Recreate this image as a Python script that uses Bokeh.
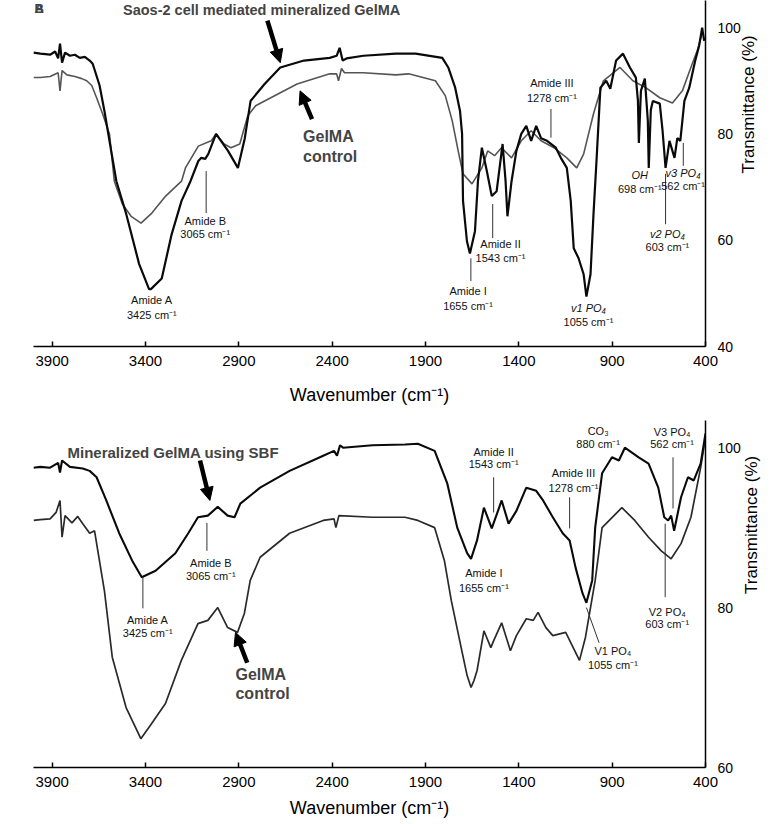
import math
from bokeh.plotting import figure
from bokeh.layouts import column
from bokeh.models import Range1d, FixedTicker, Label, Arrow, NormalHead
from bokeh.embed import file_html
from bokeh.resources import INLINE

FONT = "Liberation Sans"
SUP = " cm\u207b\u00b9"

# ---------------- data: panel A (Saos-2 cell mediated mineralization) ----------------
top_cell_wn = [4000,3963,3911,3884,3868,3858,3847,3831,3805,3778,3752,3725,3699,3683,3662,3646,3620,3593,3556,3503,
               3434,3381,3371,3313,3260,3207,3159,3117,3101,3080,3064,3022,2958,2905,2868,2837,2762,2678,2551,2413,
               2376,2360,2344,2323,2233,2059,1953,1810,1778,1741,1715,1704,1699,1678,1662,1635,1619,1598,1572,1545,
               1519,1487,1471,1461,1439,1413,1387,1360,1334,1307,1281,1249,1202,1175,1143,1122,1106,1080,1053,1038,
               1016,1000,984,963,932,910,879,842,805,773,762,757,746,725,709,704,693,682,645,630,
               614,593,566,551,535,513,487,455,434,418,407]
top_cell_T = [95.3,95.1,94.9,95.5,94.2,97.0,93.4,95.3,94.7,94.9,94.3,94.5,93.8,93.2,90.9,89.1,84.3,78.7,71.1,64.9,
              55.5,50.8,50.8,52.8,61.1,67.4,71.1,74.9,75.5,75.3,76.2,80.0,76.8,73.6,79.2,86.2,89.4,92.5,93.8,94.3,
              94.7,96.2,93.8,94.2,94.7,95.1,95.1,94.3,92.5,88.7,84.3,80.0,67.4,59.8,57.5,61.7,71.1,77.4,73.1,68.3,
              69.2,78.1,71.1,64.5,71.1,76.8,80.0,81.5,78.7,81.5,79.2,78.7,77.4,75.5,73.6,67.4,58.5,56.6,53.6,49.4,
              53.6,64.9,74.9,88.7,90.0,88.5,93.8,95.1,92.5,90.6,86.2,78.3,88.1,90.4,82.5,73.6,84.5,86.2,85.7,80.6,
              73.6,78.7,75.5,79.2,78.7,86.2,88.7,93.8,96.6,100.0,97.5]

top_ctrl_wn = [4000,3963,3911,3868,3858,3847,3821,3778,3741,3715,3688,3662,3630,3593,3567,3524,3477,3424,3366,3292,
               3207,3186,3117,3048,3022,2979,2942,2895,2852,2810,2762,2588,2413,2376,2366,2350,2334,2233,2059,1990,
               1847,1794,1757,1725,1699,1651,1598,1567,1530,1493,1439,1387,1334,1281,1212,1143,1090,1053,1000,947,
               858,789,720,645,577,524,471,444,418]
top_ctrl_T = [90.6,90.6,90.8,91.5,88.1,91.9,91.1,90.8,90.4,90.0,89.1,86.8,83.8,80.0,71.1,66.8,64.5,63.2,65.1,68.3,
              71.1,73.6,77.7,78.7,80.0,78.1,77.4,78.1,83.4,85.3,86.2,89.4,91.3,91.3,90.0,92.3,91.5,91.5,91.1,91.3,
              90.0,87.2,82.5,76.8,72.5,70.6,73.6,76.8,75.9,77.4,75.5,78.7,80.6,78.7,77.4,75.5,73.6,76.2,83.8,90.0,
              92.5,90.0,88.7,86.8,85.8,88.1,93.2,95.7,98.9]

top_lab1 = ["Amide A", "Amide B", "Amide I", "Amide II", "Amide III", "v1 PO\u2084", "OH", "v2 PO\u2084", "v3 PO\u2084"]
top_lab2 = ["3425" + SUP, "3065" + SUP, "1655" + SUP, "1543" + SUP, "1278" + SUP, "1055" + SUP, "698" + SUP, "603" + SUP, "562" + SUP]
top_lab_x = [3366, 3080, 1672, 1498, 1223, 1027, 752, 604, 520]
top_lab_y1 = [48.7, 63.6, 50.4, 59.3, 89.6, 47.2, 72.3, 61.1, 72.6]
top_lab_y2 = [45.9, 61.1, 47.6, 56.6, 86.8, 44.7, 69.6, 58.7, 70.2]
top_lab_italic = [False, False, False, False, False, True, True, True, True]

top_mark_x0 = [3075, 1657, 1540, 1228, 614, 519]
top_mark_x1 = [3075, 1657, 1540, 1228, 614, 519]
top_mark_y0 = [73.0, 56.6, 66.8, 84.7, 72.5, 78.3]
top_mark_y1 = [65.1, 52.3, 60.4, 79.3, 63.0, 74.0]

# ---------------- data: panel B (SBF mineralization) ----------------
bot_sbf_wn = [4000,3963,3911,3868,3858,3847,3805,3736,3699,3662,3610,3541,3472,3420,3346,3240,3171,3119,3066,3013,
              2960,2923,2892,2786,2628,2448,2390,2374,2358,2342,2184,2010,1941,1851,1783,1730,1677,1656,1624,1587,
              1545,1492,1455,1413,1360,1307,1270,1218,1165,1128,1096,1059,1038,1007,991,954,901,864,832,758,
              705,653,621,600,584,568,531,494,463,426,400]
bot_sbf_T = [97.5,97.6,97.5,98.1,96.9,98.4,97.6,97.4,97.1,96.3,93.4,89.3,85.9,83.8,84.6,86.8,89.3,91.3,91.5,92.6,
             91.5,91.3,93.0,95.0,97.1,99.0,99.6,99.0,100.3,100.0,100.3,100.4,100.5,99.6,95.5,90.0,86.8,86.1,88.4,92.5,
             89.9,93.4,90.5,92.1,95.0,94.6,93.4,91.3,89.3,88.4,85.0,81.8,80.6,83.4,90.0,96.8,98.8,98.4,100.0,98.8,
             98.0,95.0,91.3,90.9,91.5,89.6,93.8,96.3,95.9,98.0,101.8]

bot_ctrl_wn = [4000,3963,3911,3879,3858,3847,3831,3794,3763,3736,3699,3673,3647,3620,3578,3504,3425,3367,3293,3208,
               3119,3066,3013,2960,2907,2870,2839,2786,2628,2448,2390,2380,2364,2184,2010,1941,1851,1799,1762,1709,
               1677,1656,1640,1624,1587,1550,1534,1492,1445,1413,1360,1323,1297,1255,1218,1149,1075,1043,991,954,
               848,779,705,637,584,531,478,426,400]
bot_ctrl_T = [90.9,91.0,91.1,91.9,93.4,88.8,91.5,90.6,91.4,90.5,89.3,89.6,85.9,82.1,73.8,67.5,63.6,65.5,68.0,73.4,
              78.0,78.4,80.0,77.5,76.9,79.3,83.4,86.3,89.3,90.9,91.1,90.0,91.5,91.3,91.3,90.9,90.0,85.9,80.9,75.0,
              71.5,70.0,70.9,72.1,77.1,75.0,75.9,78.1,74.6,76.5,78.6,78.4,79.4,77.5,76.5,76.9,73.4,76.3,83.4,90.0,
              92.5,90.9,88.8,87.1,86.1,88.0,91.3,97.5,101.3]

bot_lab1 = ["Amide A", "Amide B", "Amide II", "Amide I", "Amide III", "CO\u2083", "V3 PO\u2084", "V2 PO\u2084", "V1 PO\u2084"]
bot_lab2 = ["3425" + SUP, "3065" + SUP, "1543" + SUP, "1655" + SUP, "1278" + SUP, "880" + SUP, "562" + SUP, "603" + SUP, "1055" + SUP]
bot_lab_x = [3388, 3050, 1535, 1587, 1107, 975, 579, 605, 896]
bot_lab_y1 = [78.5, 85.6, 99.5, 84.3, 96.8, 102.1, 102.0, 79.5, 74.6]
bot_lab_y2 = [76.8, 83.9, 97.9, 82.5, 94.9, 100.4, 100.4, 77.9, 72.8]

bot_mark_x0 = [3414, 3071, 1535, 1128, 574, 616, 1038]
bot_mark_x1 = [3414, 3071, 1535, 1128, 574, 616, 970]
bot_mark_y0 = [83.8, 90.6, 96.3, 93.8, 98.8, 90.5, 80.0]
bot_mark_y1 = [79.9, 87.1, 91.9, 89.9, 92.4, 81.3, 75.6]

x_ticks = [3900, 3400, 2900, 2400, 1900, 1400, 900, 400]
top_y_ticks = [40, 60, 80, 100]
bot_y_ticks = [60, 80, 100]


def make_panel(height, y_lo, y_hi, yticks, bl, br, bt, bb, x_lab_so, y_lab_so):
    p = figure(width=777, height=height, x_range=Range1d(4000, 400), y_range=Range1d(y_lo, y_hi),
               output_backend="svg", toolbar_location=None, y_axis_location="right",
               min_border_left=bl, min_border_right=br, min_border_top=bt, min_border_bottom=bb)
    p.grid.visible = False
    p.outline_line_color = None
    p.background_fill_color = "white"
    p.border_fill_color = "white"
    xa = p.xaxis[0]
    xa.ticker = FixedTicker(ticks=x_ticks)
    xa.major_tick_in = 5
    xa.major_tick_out = 0
    xa.minor_tick_in = 0
    xa.minor_tick_out = 0
    xa.axis_line_width = 1.5
    xa.axis_line_color = "black"
    xa.major_tick_line_width = 1.5
    xa.major_tick_line_color = "black"
    xa.major_label_text_font = FONT
    xa.major_label_text_font_size = "15px"
    xa.major_label_text_color = "black"
    xa.major_label_standoff = 9
    xa.axis_label = "Wavenumber (cm\u207b\u00b9)"
    xa.axis_label_text_font = FONT
    xa.axis_label_text_font_size = "18px"
    xa.axis_label_text_font_style = "normal"
    xa.axis_label_text_color = "black"
    xa.axis_label_standoff = x_lab_so
    ya = p.yaxis[0]
    ya.ticker = FixedTicker(ticks=yticks)
    ya.major_tick_in = 0
    ya.major_tick_out = 0
    ya.minor_tick_in = 0
    ya.minor_tick_out = 0
    ya.axis_line_width = 1.5
    ya.axis_line_color = "black"
    ya.major_label_text_font = FONT
    ya.major_label_text_font_size = "14px"
    ya.major_label_text_color = "black"
    ya.major_label_standoff = 12
    ya.axis_label = "Transmittance (%)"
    ya.axis_label_text_font = FONT
    ya.axis_label_text_font_size = "17px"
    ya.axis_label_text_font_style = "normal"
    ya.axis_label_text_color = "black"
    ya.axis_label_standoff = y_lab_so
    try:
        ya.axis_label_orientation = math.pi / 2
    except Exception:
        pass
    return p


def add_labels(p, xs, y1s, y2s, t1s, t2s, italics=None):
    for i in range(len(xs)):
        it = italics[i] if italics else False
        p.add_layout(Label(x=xs[i], y=y1s[i], text=t1s[i], text_align="center", text_baseline="middle",
                           text_font=FONT, text_font_size="11px", text_color="#111111",
                           text_font_style="italic" if it else "normal"))
        p.add_layout(Label(x=xs[i], y=y2s[i], text=t2s[i], text_align="center", text_baseline="middle",
                           text_font=FONT, text_font_size="11px", text_color="#111111"))


def add_arrow(p, xs, ys, xe, ye):
    p.add_layout(Arrow(end=NormalHead(size=13, fill_color="black", line_color="black", line_width=1),
                       x_start=xs, y_start=ys, x_end=xe, y_end=ye, line_width=4.5, line_color="black"))


# ---------------- top panel ----------------
p1 = make_panel(410, 40, 105.1, top_y_ticks, 33, 65, 0, 64, 16, 5)
p1.line(top_ctrl_wn, top_ctrl_T, line_color="#555555", line_width=1.6)
p1.line(top_cell_wn, top_cell_T, line_color="#0a0a0a", line_width=2.2)
p1.segment(top_mark_x0, top_mark_y0, top_mark_x1, top_mark_y1, line_color="#333333", line_width=1)
add_labels(p1, top_lab_x, top_lab_y1, top_lab_y2, top_lab1, top_lab2, top_lab_italic)
p1.add_layout(Label(x=2778, y=103.4, text="Saos-2 cell mediated mineralized GelMA", text_align="center",
                    text_baseline="middle", text_font=FONT, text_font_size="14.5px", text_font_style="bold"))
add_arrow(p1, 2747, 101.3, 2678, 93.4)
add_arrow(p1, 2508, 82.8, 2572, 88.1)
p1.add_layout(Label(x=2556, y=79.6, text="GelMA", text_align="left", text_baseline="middle",
                    text_font=FONT, text_font_size="16px", text_font_style="bold"))
p1.add_layout(Label(x=2556, y=75.8, text="control", text_align="left", text_baseline="middle",
                    text_font=FONT, text_font_size="16px", text_font_style="bold"))
for t in ["A", "B"]:
    p1.add_layout(Label(x=3995, y=105.0, text=t, text_align="left", text_baseline="top",
                        text_font=FONT, text_font_size="13px", text_font_style="bold"))

# ---------------- bottom panel ----------------
p2 = make_panel(412, 60, 103.4, bot_y_ticks, 23, 72, 10, 55, 8, 8)
p2.line(bot_ctrl_wn, bot_ctrl_T, line_color="#2a2a2a", line_width=1.7)
p2.line(bot_sbf_wn, bot_sbf_T, line_color="#0a0a0a", line_width=2.1)
p2.segment(bot_mark_x0, bot_mark_y0, bot_mark_x1, bot_mark_y1, line_color="#333333", line_width=1)
add_labels(p2, bot_lab_x, bot_lab_y1, bot_lab_y2, bot_lab1, bot_lab2)
p2.add_layout(Label(x=3251, y=99.4, text="Mineralized GelMA using SBF", text_align="center",
                    text_baseline="middle", text_font=FONT, text_font_size="15px", text_font_style="bold"))
add_arrow(p2, 3108, 98.4, 3055, 93.4)
add_arrow(p2, 2855, 73.1, 2918, 76.9)
p2.add_layout(Label(x=2918, y=71.6, text="GelMA", text_align="left", text_baseline="middle",
                    text_font=FONT, text_font_size="16px", text_font_style="bold"))
p2.add_layout(Label(x=2918, y=69.2, text="control", text_align="left", text_baseline="middle",
                    text_font=FONT, text_font_size="16px", text_font_style="bold"))

layout = column(p1, p2, spacing=0)
open("out.html", "w").write(file_html(layout, INLINE))
